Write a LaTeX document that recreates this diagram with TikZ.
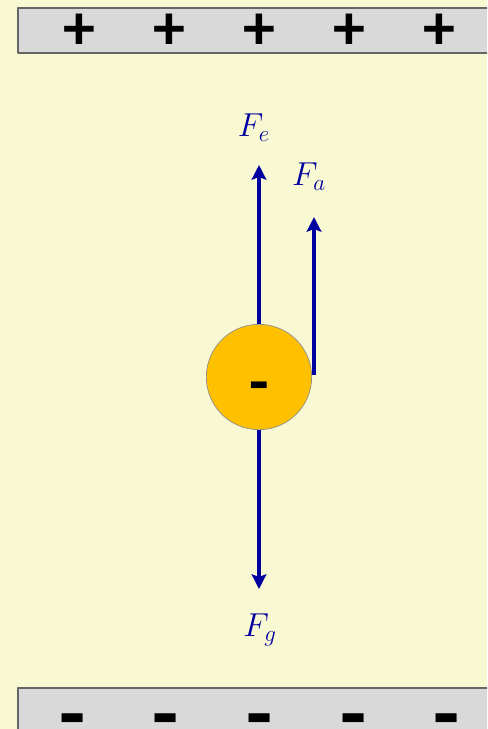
\documentclass[tikz,border=0pt]{standalone}
\usepackage{fontspec}
\newfontfamily\platefont{Carlito}
\usetikzlibrary{arrows.meta}
\definecolor{bgyellow}{RGB}{248,248,210}
\definecolor{plategray}{RGB}{217,217,217}
\definecolor{ballgold}{RGB}{255,192,0}
\definecolor{forceblue}{RGB}{0,0,160}
\tikzset{
  plate/.style={fill=plategray, draw=black!60, line width=0.8pt},
  charge/.style={font=\platefont\bfseries\fontsize{48}{48}\selectfont, inner sep=0pt},
  negcharge/.style={font=\platefont\bfseries\fontsize{64}{64}\selectfont, inner sep=0pt},
  force/.style={forceblue, line width=2.3pt, -{Stealth[length=11pt,width=11pt,inset=2pt]}},
  flabel/.style={forceblue, font=\fontsize{27}{31}\selectfont, inner sep=0pt}
}
\begin{document}
\begin{tikzpicture}[x=0.75pt,y=-0.75pt, line join=round]
        \def\xmax{487} \def\ymax{729}
        \fill[bgyellow] (0,0) rectangle (\xmax,\ymax);
        \useasboundingbox (0,0) rectangle (\xmax,\ymax);
        \clip (0,0) rectangle (\xmax,\ymax);
        % plates
        \draw[plate] (18,8) rectangle (495,53);
        \draw[plate] (18,688) rectangle (495,740);
        \foreach \x [count=\i] in {79,169,259,349,439}
            \node[charge] (p\i) at (\x,32) {+};
        \foreach \x [count=\i] in {73,166,260,354,447}
            \node[negcharge] (m\i) at (\x,728) {-};
        % charged drop
        \node[circle, minimum size=79pt, inner sep=0pt, fill=ballgold, draw=black!45, line width=0.5pt] (ball) at (259,377) {};
        \node[inner sep=0pt, font=\platefont\bfseries\fontsize{48}{48}\selectfont] (q) at (259,393) {-};
        \coordinate (fe) at (259,165);
        \coordinate (fa0) at (314,375);
        \coordinate (fa) at (314,217);
        \coordinate (fg) at (259,589);
        \draw[force] (ball.north) -- (fe);
        \draw[force] (fa0) -- (fa);
        \draw[force] (ball.south) -- (fg);
        \node[flabel] (lfe) at (254,128) {$F_e$};
        \node[flabel] (lfa) at (309,177) {$F_a$};
        \node[flabel] (lfg) at (260,630) {$F_g$};
    \end{tikzpicture}
\end{document}
